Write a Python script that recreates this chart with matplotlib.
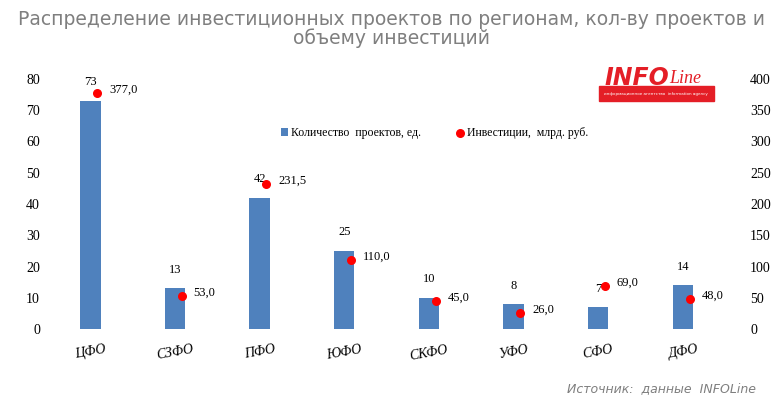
import matplotlib
matplotlib.use("Agg")
import matplotlib.pyplot as plt
import numpy as np

REGIONS = ["ЦФО", "СЗФО", "ПФО", "ЮФО", "СКФО", "УФО", "СФО", "ДФО"]
PROJECTS = [73, 13, 42, 25, 10, 8, 7, 14]
INVEST = [377.0, 53.0, 231.5, 110.0, 45.0, 26.0, 69.0, 48.0]

BAR_COLOR = "#4f81bd"
DOT_COLOR = "#ff0000"

fig = plt.figure(figsize=(7.83, 4.15), dpi=100)
ax = fig.add_axes([0.083, 0.207, 0.843, 0.603])
ax2 = ax.twinx()

x = np.arange(len(REGIONS))
ax.bar(x, PROJECTS, width=0.24, color=BAR_COLOR, label="Количество  проектов, ед.", zorder=2)
ax2.scatter(x + 0.08, INVEST, s=30, color=DOT_COLOR, label="Инвестиции,  млрд. руб.", zorder=3)

serif = "Liberation Serif"
for xi, p, v in zip(x, PROJECTS, INVEST):
    ax.text(xi, p + 4, f"{p}", ha="center", va="bottom", fontsize=9, family=serif)
    ax2.text(xi + 0.22, v + 5, f"{v:.1f}".replace(".", ","), ha="left", va="center",
             fontsize=9, family=serif)

ax.set_xlim(-0.3, len(REGIONS) - 0.5)
ax.set_ylim(0, 80)
ax2.set_ylim(0, 400)
ax.set_yticks(range(0, 81, 10))
ax2.set_yticks(range(0, 401, 50))
ax.set_xticks(x)
ax.set_xticklabels(REGIONS, family=serif, style="italic", fontsize=10, rotation=10)
for a in (ax, ax2):
    for s in a.spines.values():
        s.set_visible(False)
    a.tick_params(length=0, labelsize=10, pad=18)
    for t in a.get_yticklabels():
        t.set_family(serif)
ax.tick_params(axis="x", pad=10)

h1, l1 = ax.get_legend_handles_labels()
h2, l2 = ax2.get_legend_handles_labels()
ax.legend(h1 + h2, l1 + l2, loc="upper center", bbox_to_anchor=(0.56, 0.85), ncol=2,
          frameon=False, prop={"family": serif, "size": 8.5}, handlelength=0.6,
          handletextpad=0.3, columnspacing=3)

fig.text(0.5, 0.975, "Распределение инвестиционных проектов по регионам, кол-ву проектов и\nобъему инвестиций",
         ha="center", va="top", fontsize=13.5, color="#7f7f7f", linespacing=0.95)

fig.text(0.772, 0.795, "INFO", fontsize=17, fontweight="bold", color="#e41e26", style="italic")
fig.text(0.855, 0.80, "Line", fontsize=13, color="#e41e26", style="italic", family=serif)
fig.text(0.772, 0.772, "информационное агентство  information agency", fontsize=3,
         color="white", backgroundcolor="#e41e26")

fig.text(0.965, 0.055, "Источник:  данные  INFOLine", ha="right", fontsize=9,
         color="#7f7f7f", style="italic")

fig.savefig("out.png", dpi=100)
